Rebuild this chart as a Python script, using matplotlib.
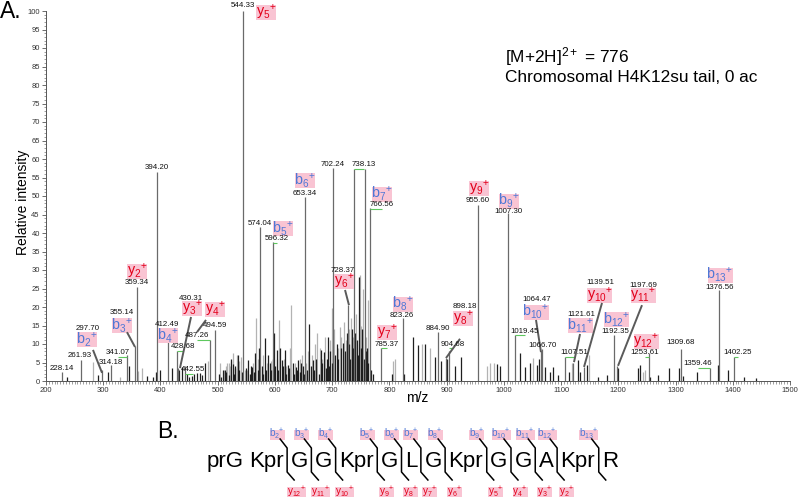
import matplotlib
matplotlib.use('Agg')
import matplotlib.pyplot as plt
from matplotlib.patches import Rectangle
from matplotlib.ticker import MultipleLocator

plt.rcParams['font.family'] = ['Liberation Sans', 'DejaVu Sans']
plt.rcParams['mathtext.fontset'] = 'custom'
plt.rcParams['mathtext.rm'] = 'Liberation Sans'
plt.rcParams['mathtext.it'] = 'Liberation Sans:italic'
plt.rcParams['mathtext.bf'] = 'Liberation Sans:bold'

# labelled / main peaks (m/z, relative intensity)
main_mz = [228.14, 261.93, 297.70, 314.18, 341.07, 355.14, 359.34, 394.20, 412.49,
           428.68, 430.31, 442.55, 487.26, 494.59, 544.33, 574.04, 596.32, 653.34,
           702.24, 728.37, 738.13, 756.9, 766.56, 785.37, 823.26, 884.90, 898.18,
           904.68, 955.60, 1007.30, 1019.45, 1064.47, 1066.70, 1107.51, 1121.61,
           1139.51, 1192.35, 1197.69, 1253.61, 1309.68, 1359.46, 1376.56, 1402.25]
main_int = [2.5, 5.7, 3.0, 4.3, 7.0, 9.5, 25.4, 56.5, 11.0,
            8.0, 3.5, 4.0, 11.0, 13.8, 100, 41.7, 37.6, 49.7,
            57.5, 20.5, 57.2, 57.2, 46.7, 9.0, 17.0, 13.3, 6.2,
            8.0, 47.6, 45.4, 12.5, 8.0, 8.7, 6.4, 5.0,
            3.8, 12.4, 4.1, 7.5, 8.7, 3.4, 24.6, 6.4]

# minor peaks, dark trace
dark_mz = [237, 291, 308, 345, 376, 387.5, 393, 400, 419.6, 433, 437, 446, 450, 454.6,
           458, 463, 469, 472, 478, 502, 506, 509, 512, 515, 519, 524, 526, 529, 530,
           531, 535, 537, 542, 550, 553, 556, 558, 560, 563, 565, 570, 572, 577, 580,
           582.7, 585, 588.5, 591, 594, 597, 599, 601, 603, 605, 609, 612, 614, 617.6,
           620, 622, 625, 631, 633, 636, 638, 641, 644, 646, 649, 651, 656, 660, 663,
           666, 669, 672, 677, 680, 683, 686, 689, 691, 693, 695, 697, 700, 705, 708,
           711, 716, 719.5, 722, 725.4, 727, 730, 732, 734, 736, 740, 743, 745, 747,
           750, 753, 755, 759, 761, 763, 768, 772, 804, 826, 842, 850.6, 862, 879.7,
           891, 900, 914.6, 926, 987.5, 994, 1028, 1037, 1045.7, 1057.4, 1061.5, 1072,
           1080.7, 1086.5, 1094, 1113, 1129, 1133, 1144.7, 1165, 1180, 1200, 1235,
           1238, 1256, 1270, 1289, 1306, 1313, 1337, 1373.6, 1391, 1420, 1440]
dark_int = [1.2, 1.5, 2.5, 4.0, 1.4, 1.0, 2.5, 3.0, 3.5, 3.0, 3.8, 1.8, 1.0, 1.4,
            2.0, 2.2, 2.2, 1.5, 5.0, 2.0, 1.0, 3.0, 3.0, 2.5, 1.5, 6.0, 4.5, 2.0, 3.5,
            4.0, 7.0, 3.0, 2.5, 3.5, 5.7, 2.0, 4.0, 3.8, 2.5, 7.6, 3.0, 9.0, 4.0, 2.0,
            11.6, 3.0, 7.0, 5.0, 3.0, 6.0, 12.9, 4.0, 8.4, 3.0, 9.0, 5.7, 4.0, 8.4,
            2.0, 4.3, 3.5, 5.0, 2.0, 3.8, 3.0, 5.7, 2.5, 5.0, 4.0, 2.0, 3.0, 15.4, 4.0,
            5.7, 3.0, 6.0, 2.0, 8.4, 5.0, 7.9, 3.5, 6.0, 12.0, 4.0, 8.0, 5.0, 7.0, 10.0,
            6.0, 9.0, 10.3, 8.0, 13.0, 5.0, 10.0, 6.0, 14.0, 9.0, 13.0, 11.0, 7.0, 28.0,
            9.0, 14.0, 6.0, 8.0, 9.0, 5.0, 3.0, 2.0, 2.0, 2.0, 12.0, 9.7, 10.0, 6.4,
            5.4, 6.0, 4.0, 6.5, 4.6, 4.0, 7.5, 3.8, 5.0, 4.3, 6.0, 3.8,
            2.5, 3.8, 1.6, 2.5, 5.7, 2.5, 4.3, 1.0, 1.6, 3.4, 3.4,
            4.3, 1.0, 1.6, 3.4, 3.4, 1.3, 2.5, 4.3, 3.0, 1.0, 0.7]

# minor peaks, light trace
light_mz = [281.6, 329, 361, 367, 483.6, 504, 511, 514.5, 517, 520, 522, 523, 527, 533,
            536, 538, 540.7, 548, 552, 562, 567, 571, 579, 586, 593, 604, 607.7, 615,
            619, 626, 628, 635, 643, 648, 654, 658, 664, 670, 674, 678, 682, 688, 692,
            696, 699, 704, 710, 713.7, 715, 721, 724, 729, 733, 737, 741, 744, 748.7,
            751, 754, 759, 762, 807, 810, 856.5, 871, 970, 976, 983, 1051.5, 1119.6,
            1148.8, 1243, 1247]
light_int = [5.2, 1.0, 2.6, 3.5, 5.4, 5.0, 3.0, 4.0, 5.0, 4.9, 4.0, 5.5, 7.5, 7.0,
             4.0, 5.5, 6.5, 3.0, 3.0, 5.0, 17.0, 6.0, 7.0, 5.0, 5.5, 6.0, 16.5, 6.0,
             4.0, 9.0, 20.5, 5.0, 6.0, 7.0, 5.0, 8.0, 7.0, 10.0, 13.0, 9.0, 6.0, 12.0, 8.0,
             11.0, 19.8, 14.0, 9.0, 14.5, 12.0, 16.0, 11.0, 14.0, 17.0, 12.0, 18.0, 10.0, 28.6,
             15.0, 25.0, 12.0, 22.0, 5.5, 6.0, 10.0, 9.0, 4.0, 5.0, 5.0, 6.3, 4.8,
             7.0, 2.5, 3.0]

# m/z annotations
mz_labels = ['228.14', '261.93', '297.70', '314.18', '341.07', '355.14', '359.34',
             '394.20', '412.49', '428.68', '430.31', '442.55', '487.26', '494.59',
             '544.33', '574.04', '596.32', '653.34', '702.24', '728.37', '738.13',
             '766.56', '785.37', '823.26', '884.90', '898.18', '904.68', '955.60',
             '1007.30', '1019.45', '1064.47', '1066.70', '1107.51', '1121.61',
             '1139.51', '1192.35', '1197.69', '1253.61', '1309.68', '1359.46',
             '1376.56', '1402.25']
# where each m/z text sits (data coords)
mz_label_pos = [(228.0, 3.5), (259.4, 6.8), (273.4, 14.1), (313.6, 5.1), (325.8, 7.8),
                (332.8, 18.4), (359.0, 26.5), (394.0, 57.8), (411.4, 15.4), (439.4, 9.2),
                (453.4, 22.4), (456.9, 3.2), (463.3, 12.2), (495.3, 14.9), (544.2, 101.4),
                (573.9, 42.7), (603.6, 38.4), (652.6, 50.8), (701.5, 58.6), (719.0, 30.0),
                (755.7, 58.4), (787.1, 47.6), (795.8, 10.0), (822.1, 17.8), (885.0, 14.3),
                (932.1, 20.0), (911.2, 10.0), (954.9, 48.9), (1007.3, 45.9), (1037.0, 13.5),
                (1057.9, 21.9), (1066.7, 9.5), (1122.6, 7.6), (1134.8, 18.1), (1168.0, 26.5),
                (1194.2, 13.5), (1243.2, 25.9), (1246.7, 7.8), (1309.6, 10.3), (1339.3, 4.6),
                (1377.7, 25.4), (1409.2, 7.6)]
green_marks = ['341.07', '428.68', '442.55', '487.26', '596.32', '738.13', '766.56',
               '785.37', '904.68', '1019.45', '1107.51', '1253.61', '1359.46', '1402.25']

# fragment ion labels: name, label centre, optional leader line
ion_labels = [('b', '2', (271.6, 11.1), ((282.1, 8.4), (297.9, 2.2))),
              ('b', '3', (332.8, 14.9), ((341.5, 13.2), (355.5, 9.2))),
              ('y', '2', (359.0, 29.5), None),
              ('b', '4', (413.2, 12.2), None),
              ('y', '3', (455.1, 19.7), ((453.4, 17.3), (434.1, 3.5))),
              ('y', '4', (495.3, 19.2), ((479.6, 16.5), (463.8, 13.2))),
              ('y', '5', (584.4, 99.7), None),
              ('b', '5', (614.1, 41.1), None),
              ('b', '6', (652.6, 54.1), None),
              ('y', '6', (720.7, 26.8), ((722.5, 24.6), (729.4, 20.5))),
              ('b', '7', (787.1, 50.5), None),
              ('y', '7', (795.8, 13.0), None),
              ('b', '8', (823.8, 20.8), None),
              ('y', '8', (928.6, 17.0), ((923.4, 11.4), (898.9, 6.2))),
              ('y', '9', (956.6, 51.9), None),
              ('b', '9', (1009.0, 48.6), None),
              ('b', '10', (1056.2, 18.6), ((1056.2, 16.5), (1064.9, 7.8))),
              ('b', '11', (1134.8, 14.9), ((1133.1, 12.7), (1122.6, 5.1))),
              ('y', '10', (1168.0, 23.2), ((1171.5, 21.1), (1140.1, 3.8))),
              ('b', '12', (1197.7, 16.5), None),
              ('y', '11', (1243.2, 23.0), ((1241.4, 20.5), (1199.5, 4.1))),
              ('y', '12', (1248.4, 10.8), None),
              ('b', '13', (1377.7, 28.6), None)]

seq_tokens = ['prG', 'Kpr', 'G', 'G', 'Kpr', 'G', 'L', 'G', 'Kpr', 'G', 'G', 'A', 'Kpr', 'R']

B_COL = '#4f78d6'
Y_COL = '#e2001a'
PINK = '#f9c4d3'


def ion_tex(kind, num):
    return r'$\mathregular{%s_{%s}{}^{+}}$' % (kind, num)


W, H = 799, 501
fig = plt.figure(figsize=(W / 100, H / 100), dpi=100)
ax = fig.add_axes([46 / W, 120 / H, 744 / W, 370 / H])
XPX = 744 / 1300.0   # pixels per m/z unit
YPX = 370 / 100.0    # pixels per intensity unit

ax.vlines(light_mz, 0, light_int, colors='#b3b3b3', lw=0.9)
ax.vlines(dark_mz, 0, dark_int, colors='#1e1e1e', lw=0.9)
ax.vlines(main_mz, 0, main_int, colors='#6a6a6a', lw=0.9)

ax.set_xlim(200, 1500)
ax.set_ylim(0, 100)
ax.xaxis.set_major_locator(MultipleLocator(100))
ax.xaxis.set_minor_locator(MultipleLocator(5))
ax.yaxis.set_major_locator(MultipleLocator(5))
ax.yaxis.set_minor_locator(MultipleLocator(1))
ax.tick_params(which='major', labelsize=5.5, length=3, width=0.6, pad=1.5,
               color='#555555', labelcolor='#333333')
ax.tick_params(which='minor', length=1.8, width=0.5, color='#777777')
for s in ['top', 'right']:
    ax.spines[s].set_visible(False)
for s in ['left', 'bottom']:
    ax.spines[s].set_color('#555555')
    ax.spines[s].set_linewidth(0.7)

fig.text(23 / W, 1 - 202 / H, 'Relative intensity', rotation=90, fontsize=10,
         ha='center', va='center')
fig.text(417 / W, 1 - 398 / H, 'm/z', fontsize=10, ha='center', va='center')

for lab, (lx, ly) in zip(mz_labels, mz_label_pos):
    ax.text(lx, ly, lab, fontsize=5.7, ha='center', va='center', color='#111111',
            clip_on=False, zorder=5)
    if lab in green_marks:
        pk = float(lab)
        ax.plot([min(lx, pk), max(lx, pk)], [ly - 1.2, ly - 1.2], color='#5ec85e',
                lw=0.8, solid_capstyle='butt', zorder=4)

for kind, num, (lx, ly), leader in ion_labels:
    col = B_COL if kind == 'b' else Y_COL
    bw = (20 if len(num) == 1 else 25) / XPX
    bh = 15 / YPX
    ax.add_patch(Rectangle((lx - bw / 2, ly - bh / 2), bw, bh, fc=PINK, ec='none',
                           clip_on=False, zorder=3))
    ax.text(lx, ly, ion_tex(kind, num), fontsize=10.3, color=col, ha='center',
            va='center', clip_on=False, zorder=6)
    if leader is not None:
        (x0, y0), (x1, y1) = leader
        ax.plot([x0, x1], [y0, y1], color='#5a5a5a', lw=1.4, solid_capstyle='butt',
                zorder=4)

fig.text(505 / W, 1 - 57 / H, r'[M+2H]$^{2+}$ = 776', fontsize=12.4, ha='left', va='center')
fig.text(505 / W, 1 - 78 / H, 'Chromosomal H4K12su tail, 0 ac', fontsize=12.4,
         ha='left', va='center')
fig.text(0 / W, 1 - 12 / H, 'A.', fontsize=16.5, ha='left', va='center')
fig.text(157 / W, 1 - 432 / H, 'B.', fontsize=16.5, ha='left', va='center')

# panel B: sequence with fragmentation brackets
renderer = fig.canvas.get_renderer()
x = 207.0
base = 467
brackets = []
for i, tok in enumerate(seq_tokens):
    t = fig.text(x / W, 1 - base / H, tok, fontsize=16, ha='left', va='baseline')
    x += t.get_window_extent(renderer).width
    if i == len(seq_tokens) - 1:
        break
    if i == 0:
        x += 5
    else:
        brackets.append(x + 3.5)
        x += 7.0


def small_ion(cx, cy, kind, num, col):
    bw = 15 if num < 10 else 19
    fig.add_artist(Rectangle(((cx - bw / 2) / W, 1 - (cy + 5) / H), bw / W, 10 / H,
                             fc=PINK, ec='none', transform=fig.transFigure))
    fig.text(cx / W, 1 - cy / H, ion_tex(kind, num), fontsize=7.2, color=col,
             ha='center', va='center')


for k, bx in enumerate(brackets):
    xs = [bx - 7, bx, bx, bx + 7]
    ys = [439, 448, 472, 480]
    fig.add_artist(plt.Line2D([v / W for v in xs], [1 - v / H for v in ys],
                              color='black', lw=1.1))
    small_ion(bx - 10, 434.5, 'b', k + 2, B_COL)
    if k < 11:
        small_ion(bx + 9, 492, 'y', 12 - k, Y_COL)

fig.savefig('out.png', dpi=100)
